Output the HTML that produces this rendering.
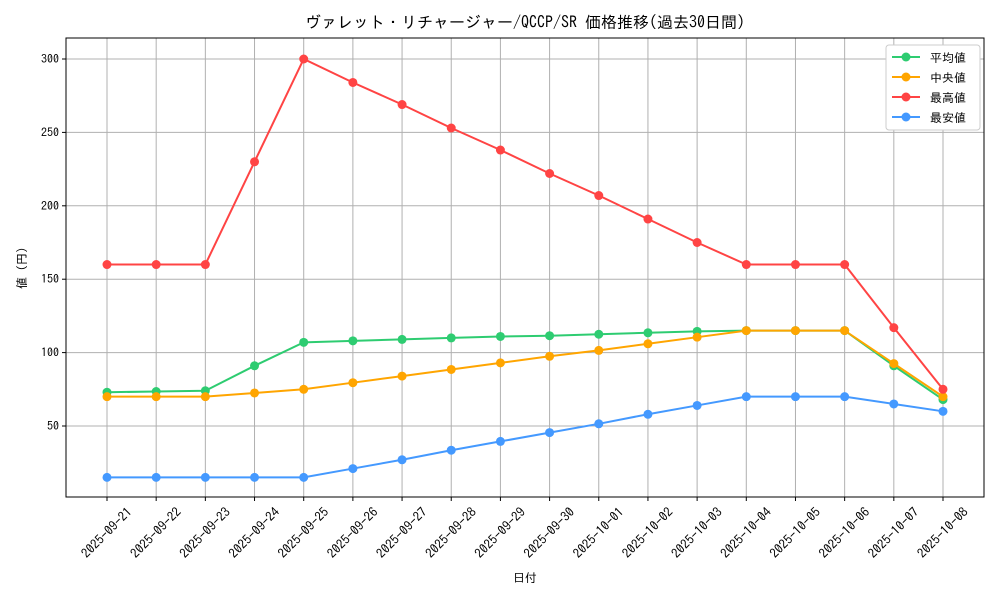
<!DOCTYPE html>
<html><head><meta charset="utf-8"><style>
body{margin:0;background:#fff}
svg{display:block;font-family:"IPAGothic","Noto Sans CJK JP",sans-serif}
</style></head><body>
<svg id="chart" width="1000" height="600">
<text x="525" y="28" text-anchor="middle" font-size="16">ヴァレット・リチャージャー/QCCP/SR 価格推移(過去30日間)</text>
<text x="525" y="582" text-anchor="middle" font-size="12">日付</text>
<text transform="translate(26,268) rotate(-90)" text-anchor="middle" font-size="12">値 (円)</text>
<g id="grid"></g><g id="axes"></g><g id="series"></g><g id="legend"></g>
</svg>
<script>
const categories=["2025-09-21","2025-09-22","2025-09-23","2025-09-24","2025-09-25","2025-09-26","2025-09-27","2025-09-28","2025-09-29","2025-09-30","2025-10-01","2025-10-02","2025-10-03","2025-10-04","2025-10-05","2025-10-06","2025-10-07","2025-10-08"];
const avgValues=[73,73.5,74,91,107,108,109,110,111,111.5,112.5,113.5,114.5,115,115,115,91,68];
const medianValues=[70,70,70,72.5,75,79.5,84,88.5,93,97.5,101.5,106,110.5,115,115,115,92.5,70];
const maxValues=[160,160,160,230,300,284,269,253,238,222,207,191,175,160,160,160,117,75];
const minValues=[15,15,15,15,15,21,27,33.5,39.5,45.5,51.5,58,64,70,70,70,65,60];
const yTicks=[50,100,150,200,250,300];
const seriesNames=["平均値","中央値","最高値","最安値"];
const colors=["#2ecc71","#ffa500","#ff4444","#4499ff"];
const L=66,R=984,T=38,B=497;
const x=i=>107+i*(943-107)/(categories.length-1);
const y=v=>59+(300-v)*(426-59)/250;
const NS="http://www.w3.org/2000/svg";
function mk(tag,attrs,parent,text){const e=document.createElementNS(NS,tag);for(const k in attrs)e.setAttribute(k,attrs[k]);if(text!==undefined)e.textContent=text;parent.appendChild(e);return e;}
const grid=document.getElementById('grid'),axes=document.getElementById('axes'),series=document.getElementById('series'),legend=document.getElementById('legend');
categories.forEach((c,i)=>{
  const g=mk('line',{x1:x(i),x2:x(i),y1:T,y2:B,stroke:'#b0b0b0','stroke-width':1},grid);
  
  
  mk('line',{x1:x(i),x2:x(i),y1:B,y2:B+4,stroke:'#000'},axes);
  const cx=x(i), cy=B+36;
  const t=mk('text',{x:cx,y:cy+4,'font-size':13,'text-anchor':'middle',transform:`rotate(-45 ${cx} ${cy})`},axes,c);
  
  
});
yTicks.forEach(v=>{
  const g=mk('line',{x1:L,x2:R,y1:y(v),y2:y(v),stroke:'#b0b0b0','stroke-width':1},grid);
  
  
  mk('line',{x1:L-4,x2:L,y1:y(v),y2:y(v),stroke:'#000'},axes);
  const t=mk('text',{x:L-7,y:y(v)+4,'font-size':12,'text-anchor':'end'},axes,v);
  
  
});
const frame=mk('rect',{x:L,y:T,width:R-L,height:B-T,fill:'none',stroke:'#000','stroke-width':1},axes);


[avgValues,medianValues,maxValues,minValues].forEach((vals,s)=>{
  const g=mk('g',{},series);
  
  
  mk('polyline',{points:vals.map((v,i)=>x(i)+','+y(v)).join(' '),fill:'none',stroke:colors[s],'stroke-width':2},g);
  vals.forEach((v,i)=>{
    const p=mk('circle',{cx:x(i),cy:y(v),r:4.5,fill:colors[s]},g);
    
    
  });
});
const lb=mk('rect',{x:886,y:45,width:94,height:85,fill:'#fff',stroke:'#ccc',rx:3},legend);


seriesNames.forEach((n,s)=>{
  const yy=57+s*20;
  const g=mk('g',{},legend);
  
  
  mk('line',{x1:892,x2:920,y1:yy,y2:yy,stroke:colors[s],'stroke-width':2},g);
  mk('circle',{cx:906,cy:yy,r:4.5,fill:colors[s]},g);
  mk('text',{x:930,y:yy+5,'font-size':12},g,n);
});
</script>
</body></html>
